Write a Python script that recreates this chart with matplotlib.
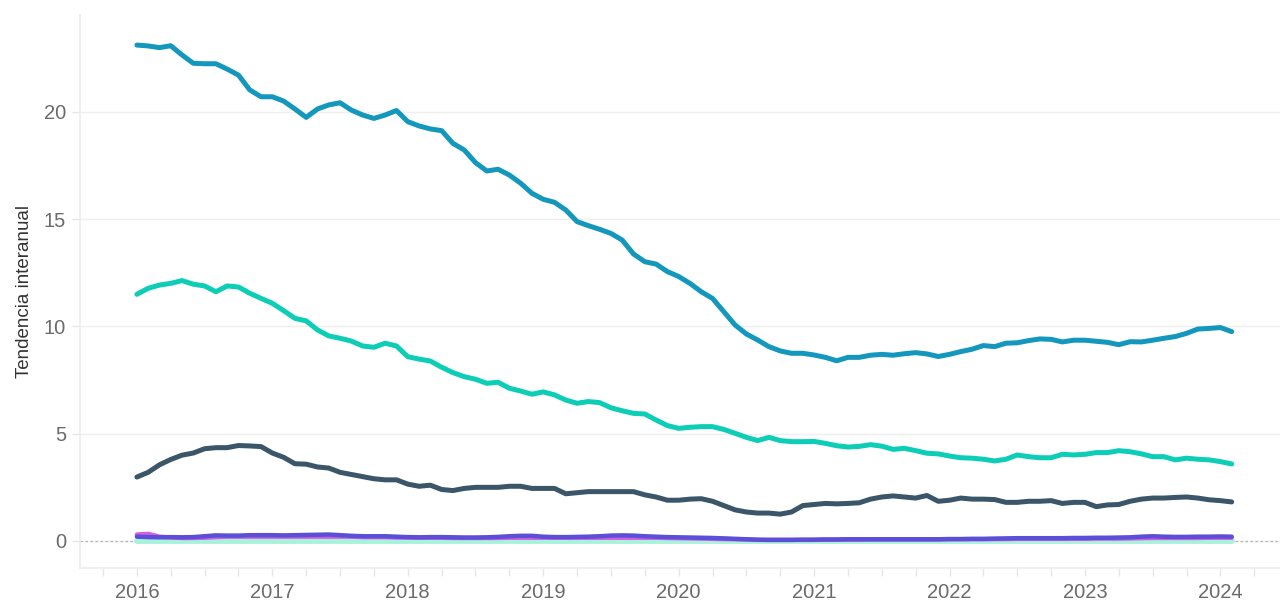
import numpy as np
import matplotlib.pyplot as plt
from matplotlib.ticker import MultipleLocator

# monthly series, Jan 2016 .. Feb 2024
start_year = 2016
serie_a = [23.12, 23.08, 23.0, 23.09, 22.66, 22.27, 22.25, 22.25, 22.0, 21.72, 21.03, 20.71,
           20.71, 20.51, 20.14, 19.75, 20.14, 20.33, 20.43, 20.09, 19.86, 19.7, 19.86, 20.07,
           19.55, 19.35, 19.21, 19.13, 18.54, 18.23, 17.64, 17.25, 17.33, 17.06, 16.68, 16.21,
           15.93, 15.79, 15.43, 14.89, 14.7, 14.53, 14.34, 14.03, 13.38, 13.02, 12.91, 12.56,
           12.33, 12.01, 11.62, 11.31, 10.69, 10.07, 9.65, 9.37, 9.06, 8.86, 8.75, 8.75,
           8.67, 8.56, 8.4, 8.56, 8.56, 8.66, 8.7, 8.66, 8.73, 8.78, 8.72, 8.6,
           8.7, 8.83, 8.94, 9.11, 9.06, 9.22, 9.24, 9.34, 9.42, 9.4, 9.28, 9.36,
           9.36, 9.31, 9.26, 9.15, 9.29, 9.28, 9.36, 9.45, 9.53, 9.68, 9.88, 9.91,
           9.95, 9.76]
serie_b = [11.5, 11.78, 11.93, 12.01, 12.14, 11.97, 11.89, 11.62, 11.89, 11.84, 11.55, 11.31,
           11.08, 10.74, 10.38, 10.26, 9.84, 9.56, 9.45, 9.32, 9.09, 9.03, 9.22, 9.09,
           8.59, 8.48, 8.39, 8.1, 7.85, 7.66, 7.54, 7.35, 7.4, 7.12, 6.99, 6.84,
           6.95, 6.81, 6.57, 6.42, 6.5, 6.45, 6.21, 6.07, 5.95, 5.92, 5.64, 5.38,
           5.25, 5.3, 5.33, 5.33, 5.2, 5.02, 4.83, 4.68, 4.83, 4.68, 4.63, 4.63,
           4.64, 4.55, 4.44, 4.38, 4.41, 4.49, 4.42, 4.27, 4.32, 4.21, 4.09, 4.06,
           3.96, 3.88, 3.86, 3.81, 3.73, 3.81, 4.01, 3.93, 3.88, 3.88, 4.04, 4.01,
           4.04, 4.12, 4.12, 4.21, 4.16, 4.06, 3.93, 3.93, 3.78, 3.86, 3.81, 3.78,
           3.7, 3.59]
serie_c = [2.98, 3.2, 3.55, 3.8, 4.0, 4.1, 4.3, 4.35, 4.35, 4.45, 4.43, 4.4,
           4.1, 3.9, 3.6, 3.58, 3.45, 3.4, 3.2, 3.1, 3.0, 2.9, 2.85, 2.85,
           2.65, 2.55, 2.6, 2.4, 2.35, 2.45, 2.5, 2.5, 2.5, 2.55, 2.55, 2.45,
           2.45, 2.45, 2.2, 2.25, 2.3, 2.3, 2.3, 2.3, 2.3, 2.15, 2.05, 1.9,
           1.9, 1.95, 1.97, 1.85, 1.65, 1.45, 1.35, 1.3, 1.3, 1.25, 1.35, 1.65,
           1.7, 1.75, 1.73, 1.75, 1.78, 1.95, 2.05, 2.1, 2.05, 2.0, 2.12, 1.85,
           1.9, 2.0, 1.95, 1.95, 1.93, 1.8, 1.8, 1.85, 1.85, 1.88, 1.75, 1.8,
           1.8, 1.6, 1.68, 1.7, 1.85, 1.95, 2.0, 2.0, 2.03, 2.05, 2.0, 1.92,
           1.88, 1.82]
serie_d = [0.2, 0.18, 0.17, 0.18, 0.17, 0.18, 0.22, 0.26, 0.25, 0.25, 0.27, 0.27,
           0.27, 0.26, 0.27, 0.28, 0.29, 0.3, 0.27, 0.24, 0.22, 0.22, 0.22, 0.2,
           0.18, 0.17, 0.18, 0.18, 0.17, 0.16, 0.16, 0.17, 0.19, 0.22, 0.24, 0.24,
           0.2, 0.18, 0.18, 0.19, 0.2, 0.22, 0.25, 0.26, 0.25, 0.22, 0.2, 0.18,
           0.17, 0.16, 0.15, 0.14, 0.12, 0.1, 0.08, 0.06, 0.05, 0.05, 0.05, 0.06,
           0.06, 0.07, 0.07, 0.08, 0.08, 0.08, 0.08, 0.08, 0.08, 0.08, 0.08, 0.08,
           0.09, 0.09, 0.1, 0.1, 0.11, 0.12, 0.13, 0.13, 0.13, 0.13, 0.13, 0.14,
           0.14, 0.15, 0.15, 0.16, 0.17, 0.2, 0.22, 0.2, 0.19, 0.19, 0.2, 0.2,
           0.21, 0.2]
serie_e = [0.3, 0.33, 0.2, 0.16, 0.14, 0.14, 0.15, 0.18, 0.2, 0.2, 0.2, 0.2,
           0.2, 0.2, 0.2, 0.2, 0.2, 0.2, 0.2, 0.2, 0.18, 0.18, 0.18, 0.16,
           0.16, 0.15, 0.15, 0.15, 0.14, 0.14, 0.14, 0.14, 0.14, 0.15, 0.15, 0.15,
           0.15, 0.15, 0.15, 0.15, 0.15, 0.15, 0.15, 0.15, 0.15, 0.15, 0.15, 0.14,
           0.13, 0.12, 0.11, 0.1, 0.09, 0.08, 0.07, 0.05, 0.05, 0.05, 0.05, 0.05,
           0.05, 0.06, 0.06, 0.06, 0.06, 0.07, 0.07, 0.07, 0.07, 0.07, 0.07, 0.07,
           0.08, 0.08, 0.08, 0.08, 0.09, 0.09, 0.1, 0.1, 0.1, 0.1, 0.1, 0.1,
           0.1, 0.11, 0.11, 0.11, 0.12, 0.13, 0.14, 0.14, 0.14, 0.14, 0.14, 0.15,
           0.15, 0.15]
serie_f = [0.0] * 98

colores = {"a": "#1497BD", "b": "#0CCDB5", "c": "#3B5669",
           "d": "#5A4FD6", "e": "#D35EE4", "f": "#A8F2DC"}

n = len(serie_a)
x = start_year + np.arange(n) / 12.0

plt.rcParams["font.family"] = ["Liberation Sans", "DejaVu Sans"]
fig = plt.figure(figsize=(12.8, 6.02), dpi=100)
ax = fig.add_axes([0.0625, 0.0565, 0.9375, 0.9185])

ax.axhline(0, color="#b5b5b5", lw=0.9, ls=(0, (2, 2)), zorder=1)
ax.plot(x, serie_f, color=colores["f"], lw=4.2, solid_capstyle="round", zorder=2)
ax.plot(x, serie_e, color=colores["e"], lw=3.2, solid_capstyle="round", zorder=3)
ax.plot(x, serie_d, color=colores["d"], lw=3.2, solid_capstyle="round", zorder=4)
ax.plot(x, serie_c, color=colores["c"], lw=3.6, solid_capstyle="round", zorder=5)
ax.plot(x, serie_b, color=colores["b"], lw=3.6, solid_capstyle="round", zorder=5)
ax.plot(x, serie_a, color=colores["a"], lw=3.6, solid_capstyle="round", zorder=5)

ax.set_xlim(2015.58, 2024.44)
ax.set_ylim(-1.26, 24.52)
ax.set_xticks(range(2016, 2025))
ax.xaxis.set_minor_locator(MultipleLocator(0.25))
ax.set_yticks([0, 5, 10, 15, 20])
ax.grid(axis="y", color="#efefef", lw=1.0)
ax.set_axisbelow(True)

for s in ["top", "right"]:
    ax.spines[s].set_visible(False)
for s in ["left", "bottom"]:
    ax.spines[s].set_color("#ececec")
    ax.spines[s].set_linewidth(1.2)

ax.tick_params(axis="both", which="both", colors="#e6e6e6", labelcolor="#6b6b6b",
               labelsize=14.5, length=6, width=1)
ax.tick_params(axis="x", pad=5)
ax.tick_params(axis="y", pad=4)
ax.set_ylabel("Tendencia interanual", fontsize=13.5, color="#333333", labelpad=8)

fig.savefig("out.png", dpi=100)
